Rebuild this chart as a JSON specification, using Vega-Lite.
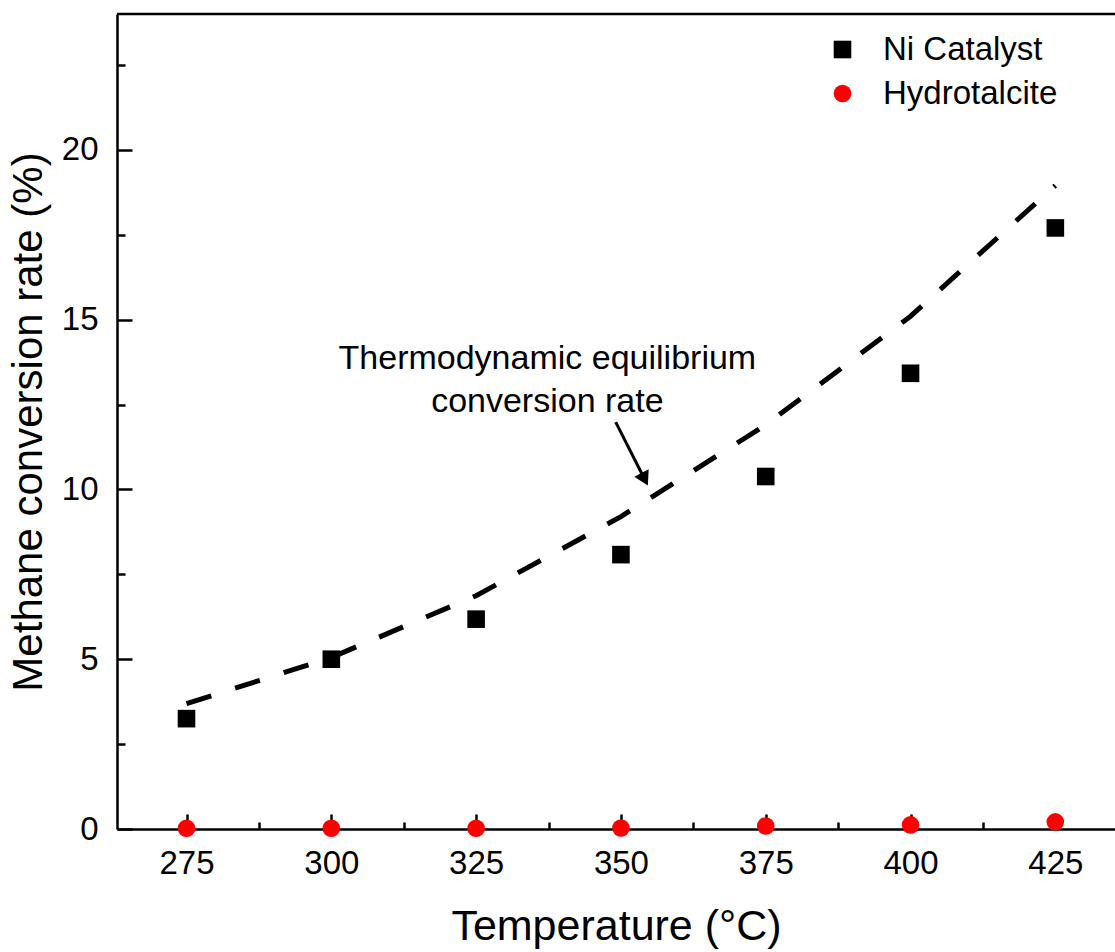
{
  "$schema": "https://vega.github.io/schema/vega-lite/v6.json",
  "autosize": {"type": "none"},
  "width": 998,
  "height": 815,
  "padding": {"top": 14, "left": 117, "right": 0, "bottom": 123},
  "background": "white",
  "config": {
    "view": {"stroke": null},
    "font": "Liberation Sans",
    "axis": {
      "domainColor": "black",
      "domainWidth": 2.5,
      "tickColor": "black",
      "tickWidth": 2.5,
      "grid": false,
      "labelFont": "Liberation Sans",
      "labelFontSize": 33,
      "labelColor": "black",
      "titleFont": "Liberation Sans",
      "titleFontSize": 43,
      "titleFontWeight": "normal",
      "titleColor": "black"
    },
    "legend": {
      "orient": "none",
      "legendX": 709,
      "legendY": 19,
      "padding": 0,
      "labelFont": "Liberation Sans",
      "labelFontSize": 33,
      "labelColor": "black",
      "labelLimit": 0,
      "labelOffset": 24,
      "rowPadding": 10,
      "symbolSize": 310,
      "symbolStrokeWidth": 0,
      "title": null
    }
  },
  "datasets": {
    "measured": [
      {"T": 275, "series": "Ni Catalyst", "rate": 3.25},
      {"T": 300, "series": "Ni Catalyst", "rate": 5.0},
      {"T": 325, "series": "Ni Catalyst", "rate": 6.18},
      {"T": 350, "series": "Ni Catalyst", "rate": 8.08},
      {"T": 375, "series": "Ni Catalyst", "rate": 10.38},
      {"T": 400, "series": "Ni Catalyst", "rate": 13.42},
      {"T": 425, "series": "Ni Catalyst", "rate": 17.7},
      {"T": 275, "series": "Hydrotalcite", "rate": 0.02},
      {"T": 300, "series": "Hydrotalcite", "rate": 0.02},
      {"T": 325, "series": "Hydrotalcite", "rate": 0.02},
      {"T": 350, "series": "Hydrotalcite", "rate": 0.03},
      {"T": 375, "series": "Hydrotalcite", "rate": 0.09},
      {"T": 400, "series": "Hydrotalcite", "rate": 0.12},
      {"T": 425, "series": "Hydrotalcite", "rate": 0.21}
    ],
    "equilibrium": [
      {"T": 275, "rate": 3.69},
      {"T": 300, "rate": 5.05},
      {"T": 325, "rate": 6.87},
      {"T": 350, "rate": 9.2},
      {"T": 375, "rate": 11.9},
      {"T": 400, "rate": 15.1},
      {"T": 425, "rate": 18.95}
    ],
    "note": [
      {"T": 337.3, "rate": 13.85, "label": "Thermodynamic equilibrium\nconversion rate"}
    ],
    "arrow": [
      {"T": 349.1, "rate": 11.98, "T2": 354.1, "rate2": 10.3}
    ],
    "arrowHead": [
      {"T": 354.1, "rate": 10.3}
    ]
  },
  "resolve": {"axis": {"x": "independent", "y": "independent"}},
  "layer": [
    {
      "data": {"name": "equilibrium"},
      "mark": {"type": "line", "color": "black", "strokeWidth": 5, "strokeDash": [26, 25], "strokeCap": "butt"},
      "encoding": {
        "x": {
          "field": "T", "type": "quantitative",
          "scale": {"domain": [263, 435.3], "nice": false, "zero": false},
          "axis": {"orient": "bottom", "values": [287.5, 312.5, 337.5, 362.5, 387.5, 412.5], "labels": false, "domain": false, "tickSize": -7, "title": null}
        },
        "y": {
          "field": "rate", "type": "quantitative",
          "scale": {"domain": [0, 24], "nice": false},
          "axis": {"orient": "left", "values": [2.5, 7.5, 12.5, 17.5, 22.5], "labels": false, "domain": false, "tickSize": -8, "title": null}
        }
      }
    },
    {
      "data": {"name": "measured"},
      "mark": {"type": "point", "filled": true, "opacity": 1, "size": 310},
      "encoding": {
        "x": {
          "field": "T", "type": "quantitative",
          "axis": {"orient": "bottom", "values": [275, 300, 325, 350, 375, 400, 425], "tickSize": -15, "labelPadding": 33, "title": "Temperature (°C)", "titlePadding": 25}
        },
        "y": {
          "field": "rate", "type": "quantitative",
          "axis": {"orient": "left", "values": [0, 5, 10, 15, 20], "tickSize": -15, "labelPadding": 34, "title": "Methane conversion rate (%)", "titlePadding": 11, "titleFontSize": 42}
        },
        "color": {
          "field": "series", "type": "nominal",
          "scale": {"domain": ["Ni Catalyst", "Hydrotalcite"], "range": ["#000000", "#ff0000"]}
        },
        "shape": {
          "field": "series", "type": "nominal",
          "scale": {"domain": ["Ni Catalyst", "Hydrotalcite"], "range": ["square", "circle"]}
        }
      }
    },
    {
      "data": {"name": "note"},
      "mark": {"type": "text", "fontSize": 34, "font": "Liberation Sans", "color": "black", "align": "center", "baseline": "middle", "lineBreak": "\n", "lineHeight": 43},
      "encoding": {
        "x": {"field": "T", "type": "quantitative", "axis": null},
        "y": {"field": "rate", "type": "quantitative", "axis": null},
        "text": {"field": "label"}
      }
    },
    {
      "data": {"name": "arrow"},
      "mark": {"type": "rule", "color": "black", "strokeWidth": 3},
      "encoding": {
        "x": {"field": "T", "type": "quantitative", "axis": null},
        "y": {"field": "rate", "type": "quantitative", "axis": null},
        "x2": {"field": "T2"},
        "y2": {"field": "rate2"}
      }
    },
    {
      "data": {"name": "arrowHead"},
      "mark": {"type": "point", "shape": "triangle-down", "filled": true, "opacity": 1, "color": "black", "size": 260, "angle": -27},
      "encoding": {
        "x": {"field": "T", "type": "quantitative", "axis": null},
        "y": {"field": "rate", "type": "quantitative", "axis": null}
      }
    },
    {
      "data": {"values": [{}]},
      "mark": {"type": "rule", "color": "black", "strokeWidth": 2.5},
      "encoding": {
        "y": {"datum": 24, "type": "quantitative", "axis": null}
      }
    }
  ]
}
